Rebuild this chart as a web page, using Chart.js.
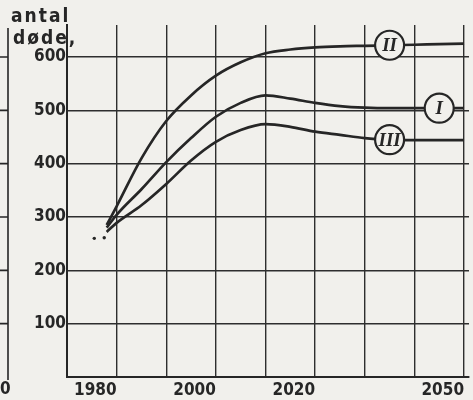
<!DOCTYPE html>
<html>
<meta charset="UTF-8">
<script src="https://cdn.jsdelivr.net/npm/chart.js"></script>
<head>
    <title>antal døde</title>
    <style>
        html, body { margin: 0; padding: 0; background: #f1f0ec; }
        #wrap { width: 473px; height: 400px; position: relative; }
    </style>
</head>
<body>
<div id="wrap"><canvas id="chart"></canvas></div>
<script>
    // data
    const years = [1978, 1980, 1985, 1990, 1995, 2000, 2005, 2010, 2015, 2020, 2025, 2030, 2035, 2040, 2045, 2050];
    const serieII  = [285, 320, 410, 480, 528, 565, 590, 607, 614, 618, 620, 621, 622, 623, 624, 625];
    const serieI   = [280, 304, 352, 403, 448, 488, 514, 528, 522, 514, 508, 505, 504, 504, 504, 504];
    const serieIII = [272, 289, 322, 362, 406, 441, 463, 474, 469, 460, 454, 448, 445, 444, 444, 444];
    const dotYears = [1975.5, 1977.5];
    const dotValues = [260, 261];
    const yTicks = [0, 100, 200, 300, 400, 500, 600];
    const xTicks = [1970, 1980, 1990, 2000, 2010, 2020, 2030, 2040, 2050];
    const xLabels = [1980, 2000, 2020, 2050];
    // circled names and the year where they sit on the curve
    const names = ['II', 'I', 'III'];
    const nameYears = [2035, 2045, 2035];

    const ink = '#262626';
    const paper = '#f1f0ec';
    const font = '"Liberation Sans Narrow", "DejaVu Sans Condensed", sans-serif';

    const pts = arr => arr.map((v, i) => ({x: years[i], y: v}));
    const series = [serieII, serieI, serieIII];

    const ctx = document.getElementById('chart').getContext('2d');

    const extras = {
        id: 'extras',
        afterDatasetsDraw(chart) {
            const c = chart.ctx;
            const xs = chart.scales.x, ys = chart.scales.y;
            c.save();
            // circled roman numerals on the curves
            names.forEach((n, k) => {
                const i = years.indexOf(nameYears[k]);
                const px = xs.getPixelForValue(nameYears[k]);
                const py = ys.getPixelForValue(series[k][i]);
                c.beginPath();
                c.arc(px, py, 14.5, 0, Math.PI * 2);
                c.fillStyle = paper;
                c.fill();
                c.lineWidth = 2.2;
                c.strokeStyle = ink;
                c.stroke();
                c.fillStyle = ink;
                c.font = 'italic bold 19px "Liberation Serif", serif';
                c.textAlign = 'center';
                c.textBaseline = 'middle';
                c.fillText(n, px, py + 1);
            });
            // axis title
            c.fillStyle = ink;
            c.font = 'bold 19px ' + font;
            c.textAlign = 'left';
            c.textBaseline = 'middle';
            c.letterSpacing = '2px';
            c.fillText('antal', 11, 17);
            c.fillText('døde,', 13, 39);
            c.letterSpacing = '0px';
            // edge of the neighbouring figure on the scan
            c.strokeStyle = ink;
            c.lineWidth = 1.6;
            c.beginPath();
            c.moveTo(8, 28);
            c.lineTo(8, 380);
            yTicks.slice(1).forEach(v => {
                const py = ys.getPixelForValue(v);
                c.moveTo(0, py);
                c.lineTo(8, py);
            });
            c.stroke();
            c.font = 'bold 17px ' + font;
            c.fillText('0', 0, 390);
            c.restore();
        }
    };

    const line = (data) => ({
        data: pts(data),
        borderColor: ink,
        borderWidth: 2.7,
        pointRadius: 0,
        fill: false,
        cubicInterpolationMode: 'monotone'
    });

    new Chart(ctx, {
        type: 'line',
        data: {
            datasets: [
                line(serieII),
                line(serieI),
                line(serieIII),
                {
                    data: dotValues.map((v, i) => ({x: dotYears[i], y: v})),
                    showLine: false,
                    pointRadius: 1.7,
                    pointBackgroundColor: ink,
                    pointBorderWidth: 0
                }
            ]
        },
        options: {
            responsive: true,
            maintainAspectRatio: false,
            animation: false,
            layout: { padding: { top: 25, right: 0, left: 0, bottom: 0 } },
            plugins: { legend: { display: false }, tooltip: { enabled: false } },
            scales: {
                x: {
                    type: 'linear',
                    min: 1970,
                    max: 2051,
                    afterBuildTicks: s => { s.ticks = xTicks.map(v => ({value: v})); },
                    afterFit: s => { s.height = 23; },
                    grid: { color: '#2e2e2e', lineWidth: 1.4, drawTicks: false },
                    border: { color: ink, width: 2 },
                    ticks: {
                        autoSkip: false,
                        maxRotation: 0,
                        align: 'end',
                        padding: 3,
                        color: ink,
                        font: { family: font, size: 17, weight: 'bold' },
                        callback: v => xLabels.includes(v) ? String(v) : ''
                    }
                },
                y: {
                    min: 0,
                    max: 660,
                    afterBuildTicks: s => { s.ticks = yTicks.map(v => ({value: v})); },
                    afterFit: s => { s.width = 67; },
                    grid: { color: '#2e2e2e', lineWidth: 1.4, drawTicks: false },
                    border: { color: ink, width: 2 },
                    ticks: {
                        padding: 1,
                        color: ink,
                        font: { family: font, size: 17, weight: 'bold' },
                        callback: v => v === 0 ? '' : String(v)
                    }
                }
            }
        },
        plugins: [extras]
    });
</script>
</body>
</html>
